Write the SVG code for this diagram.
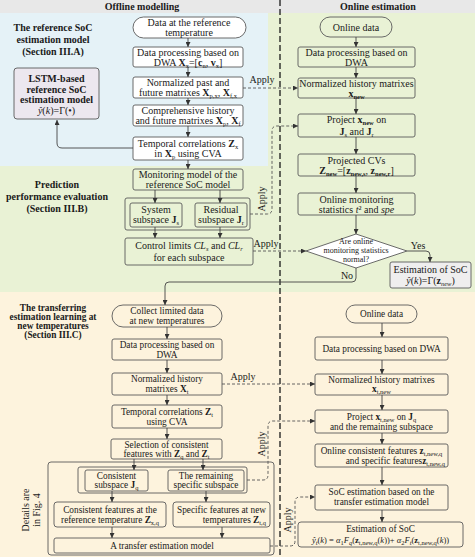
<svg xmlns="http://www.w3.org/2000/svg" width="475" height="557" viewBox="0 0 475 557">
<defs>
<marker id="ah" viewBox="0 0 6 6" refX="6" refY="3" markerWidth="5" markerHeight="5" orient="auto" markerUnits="userSpaceOnUse"><path d="M0,0 L6,3 L0,6 Z" fill="#333"/></marker>
<style>
.bx{fill:#fff;stroke:#5a5a5a;stroke-width:0.9}
.bg{fill:none;stroke:#5a5a5a;stroke-width:0.9}
.t{font-family:"Liberation Serif","Times New Roman",serif;font-size:10px;fill:#1a1a1a;text-anchor:middle}
.t9{font-size:9.3px}
.h{font-weight:bold}
.sec{font-family:"Liberation Serif",serif;font-size:10px;font-weight:bold;fill:#1a1a1a;text-anchor:middle}
.m{font-weight:bold}
.i{font-style:italic}
.s{font-size:6.5px;baseline-shift:-2px}
.cn{fill:none;stroke:#444;stroke-width:0.9}
.dn{fill:none;stroke:#555;stroke-width:0.9;stroke-dasharray:3 2}
</style>
</defs>

<!-- backgrounds -->
<rect x="0" y="0" width="475" height="13" fill="#e8e8e8"/>
<rect x="0" y="13" width="268" height="153" fill="#e5f2f7"/>
<path d="M268,13 H475 V292 H0 V166 H268 Z" fill="#e9f2d5"/>
<rect x="0" y="292" width="475" height="265" fill="#fdf3dd"/>
<text class="sec" x="142" y="10">Offline modelling</text>
<text class="sec" x="378" y="10">Online estimation</text>
<line x1="280" y1="0" x2="280" y2="557" stroke="#1a1a1a" stroke-width="1.3" stroke-dasharray="6 3"/>

<!-- section labels -->
<text class="sec" x="53" y="31">The reference SoC<tspan x="53" dy="12">estimation model</tspan><tspan x="53" dy="12">(Section III.A)</tspan></text>
<text class="sec" x="57" y="188">Prediction<tspan x="57" dy="12">performance evaluation</tspan><tspan x="57" dy="12">(Section III.B)</tspan></text>
<text class="sec" x="53" y="311" style="font-size:9.3px">The transferring<tspan x="53" dy="9">estimation learning at</tspan><tspan x="53" dy="9">new temperatures</tspan><tspan x="53" dy="9">(Section III.C)</tspan></text>

<!-- offline nodes -->
<g id="n_refdata"><rect class="bx" x="133" y="17" width="113" height="21" rx="10.5"/><text class="t" x="189" y="26">Data at the reference<tspan x="189" dy="10">temperature</tspan></text></g>
<g id="n_dwa"><rect class="bx" x="133" y="47" width="110" height="20" rx="2"/><text class="t" x="188" y="55.5">Data processing based on<tspan x="188" dy="10">DWA </tspan><tspan class="m">X</tspan><tspan class="s">x</tspan>=[<tspan class="m">c</tspan><tspan class="s">n</tspan>, <tspan class="m">v</tspan><tspan class="s">x</tspan>]</text></g>
<g id="n_norm"><rect class="bx" x="133" y="77" width="110" height="21" rx="2"/><text class="t" x="188" y="86">Normalized past and<tspan x="188" dy="10">future matrixes </tspan><tspan class="m">X</tspan><tspan class="s">p,x</tspan>, <tspan class="m">X</tspan><tspan class="s">f,x</tspan></text></g>
<g id="n_comp"><rect class="bx" x="133" y="105" width="110" height="21" rx="2"/><text class="t" x="188" y="114">Comprehensive history<tspan x="188" dy="10">and future matrixes </tspan><tspan class="m">X</tspan><tspan class="s">p</tspan>, <tspan class="m">X</tspan><tspan class="s">f</tspan></text></g>
<g id="n_tc"><rect class="bx" x="133" y="137" width="110" height="23" rx="2"/><text class="t" x="188" y="147">Temporal correlations <tspan class="m">Z</tspan><tspan class="s">x</tspan><tspan x="188" dy="10">in </tspan><tspan class="m">X</tspan><tspan class="s">p</tspan> using CVA</text></g>
<g id="n_lstm"><rect x="14" y="68" width="85" height="51" rx="3" fill="#ece7ef" stroke="#5a5a5a" stroke-width="0.9"/><text class="t h" x="56.5" y="82">LSTM-based<tspan x="56.5" dy="10.5">reference SoC</tspan><tspan x="56.5" dy="10.5">estimation model</tspan></text><text class="t" x="56.5" y="114"><tspan class="i">ŷ</tspan>(<tspan class="i">k</tspan>)=Γ(•)</text></g>
<g id="n_mon"><rect class="bg" x="133" y="169" width="110" height="21" rx="2"/><text class="t" x="188" y="178">Monitoring model of the<tspan x="188" dy="10">reference SoC model</tspan></text></g>
<g id="n_subsp"><rect class="bg" x="125" y="198" width="125" height="32" rx="2"/>
<rect class="bg" x="130" y="203" width="52" height="24" rx="2"/><text class="t" x="156" y="213">System<tspan x="156" dy="10">subspace </tspan><tspan class="m">J</tspan><tspan class="s">s</tspan></text>
<rect class="bg" x="195" y="203" width="52" height="24" rx="2"/><text class="t" x="221" y="213">Residual<tspan x="221" dy="10">subspace </tspan><tspan class="m">J</tspan><tspan class="s">r</tspan></text></g>
<g id="n_cl"><rect class="bg" x="125" y="238" width="128" height="27" rx="2"/><text class="t" x="189" y="249">Control limits <tspan class="i">CL</tspan><tspan class="s i">s</tspan> and <tspan class="i">CL</tspan><tspan class="s i">r</tspan></text><text class="t" x="189" y="260.5">for each subspace</text></g>

<!-- online top nodes -->
<g id="n_ondata"><rect class="bg" x="320" y="17" width="72" height="20" rx="10"/><text class="t" x="356" y="30.5">Online data</text></g>
<g id="n_ondwa"><rect class="bg" x="298" y="47" width="117" height="20" rx="2"/><text class="t" x="356.5" y="55.5">Data processing based on<tspan x="356.5" dy="10">DWA</tspan></text></g>
<g id="n_onnorm"><rect class="bg" x="298" y="78" width="117" height="20" rx="2"/><text class="t" x="356.5" y="86.5">Normalized history matrixes<tspan x="356.5" dy="10" class="m">x</tspan><tspan class="s m">new</tspan></text></g>
<g id="n_proj"><rect class="bg" x="298" y="114" width="117" height="23" rx="2"/><text class="t" x="356.5" y="123">Project <tspan class="m">x</tspan><tspan class="s m">new</tspan> on</text><text class="t" x="356.5" y="134.5"><tspan class="m">J</tspan><tspan class="s">s</tspan> and <tspan class="m">J</tspan><tspan class="s">r</tspan></text></g>
<g id="n_pcv"><rect class="bg" x="298" y="154" width="117" height="22" rx="2"/><text class="t" x="356.5" y="163.5">Projected CVs<tspan x="356.5" dy="10" class="m">Z</tspan><tspan class="s m">new</tspan>=[<tspan class="m">z</tspan><tspan class="s m">new,s</tspan>, <tspan class="m">z</tspan><tspan class="s m">new,r</tspan>]</text></g>
<g id="n_stat"><rect class="bg" x="298" y="193" width="117" height="22" rx="2"/><text class="t" x="356.5" y="202.5">Online monitoring<tspan x="356.5" dy="10">statistics </tspan><tspan class="i">t</tspan>² and <tspan class="i">spe</tspan></text></g>
<g id="n_dec"><path d="M356,234 L407,251 L356,268 L306,251 Z" fill="#fff" stroke="#5a5a5a" stroke-width="0.9"/><text class="t" x="356" y="244" style="font-size:8px">Are online<tspan x="356" dy="9">monitoring statistics</tspan><tspan x="356" dy="9">normal?</tspan></text></g>
<g id="n_est"><rect x="390" y="262" width="81" height="26" rx="2" fill="#efeeee" stroke="#5a5a5a" stroke-width="0.9"/><text class="t" x="430.5" y="272.5">Estimation of SoC<tspan x="430.5" dy="11" class="i">ŷ</tspan>(<tspan class="i">k</tspan>)=Γ(<tspan class="m">z</tspan><tspan class="s i">new</tspan>)</text></g>

<!-- transfer (bottom-left) nodes -->
<g id="n_collect"><rect class="bg" x="112" y="305" width="110" height="22" rx="11"/><text class="t t9" x="167" y="314">Collect limited data<tspan x="167" dy="10">at new temperatures</tspan></text></g>
<g id="n_tdwa"><rect class="bg" x="112" y="339" width="110" height="21" rx="2"/><text class="t t9" x="167" y="347.5">Data processing based on<tspan x="167" dy="10">DWA</tspan></text></g>
<g id="n_tnorm"><rect class="bg" x="112" y="373" width="110" height="22" rx="2"/><text class="t t9" x="167" y="382">Normalized history<tspan x="167" dy="10">matrixes </tspan><tspan class="m">X</tspan><tspan class="s">t</tspan></text></g>
<g id="n_ttc"><rect class="bg" x="112" y="405" width="110" height="23" rx="2"/><text class="t t9" x="167" y="414.5">Temporal correlations <tspan class="m">Z</tspan><tspan class="s">t</tspan><tspan x="167" dy="10">using CVA</tspan></text></g>
<g id="n_sel"><rect class="bg" x="111" y="439" width="111" height="20" rx="2"/><text class="t t9" x="166.5" y="447.5">Selection of consistent<tspan x="166.5" dy="9.5">features with </tspan><tspan class="m">Z</tspan><tspan class="s">q</tspan> and <tspan class="m">Z</tspan><tspan class="s">t</tspan></text></g>
<g id="n_details"><rect class="bg" x="48" y="462" width="226" height="93" rx="3"/><text class="t" transform="translate(29,510) rotate(-90)" x="0" y="0">Details are<tspan x="0" dy="11">in Fig. 4</tspan></text></g>
<g id="n_tsub"><rect class="bg" x="78" y="467" width="169" height="26" rx="2"/>
<rect class="bg" x="85" y="470" width="63" height="21" rx="2"/><text class="t t9" x="116.5" y="478.5">Consistent<tspan x="116.5" dy="9.5">subspace </tspan><tspan class="m">J</tspan><tspan class="s">q</tspan></text>
<rect class="bg" x="168" y="470" width="76" height="21" rx="2"/><text class="t t9" x="206" y="478.5">The remaining<tspan x="206" dy="9.5">specific subspace</tspan></text></g>
<g id="n_cf"><rect class="bg" x="54" y="502" width="112" height="25" rx="3"/><text class="t t9" x="110" y="512.5">Consistent features at the<tspan x="110" dy="10">reference temperature </tspan><tspan class="m">Z</tspan><tspan class="s">x,q</tspan></text></g>
<g id="n_sf"><rect class="bg" x="173" y="502" width="97" height="25" rx="3"/><text class="t t9" x="221.5" y="512.5">Specific features at new</text><text class="t t9" x="266" y="522.5" style="text-anchor:end">temperatures <tspan class="m">Z</tspan><tspan class="s">t,q</tspan></text></g>
<g id="n_tm"><rect class="bg" x="54" y="538" width="216" height="15" rx="2"/><text class="t t9" x="162" y="549">A transfer estimation model</text></g>

<!-- online bottom nodes -->
<g id="n_ondata2"><rect class="bg" x="346" y="305" width="71" height="18" rx="9"/><text class="t t9" x="381.5" y="317">Online data</text></g>
<g id="n_ondwa2"><rect class="bg" x="315" y="337" width="133" height="23" rx="2"/><text class="t t9" x="381.5" y="351.5">Data processing based on DWA</text></g>
<g id="n_onnorm2"><rect class="bg" x="315" y="374" width="133" height="21" rx="2"/><text class="t t9" x="381.5" y="382.5">Normalized history matrixes<tspan x="381.5" dy="9.5" class="m">x</tspan><tspan class="s">t,new</tspan></text></g>
<g id="n_proj2"><rect class="bg" x="315" y="410" width="133" height="23" rx="2"/><text class="t t9" x="381.5" y="419.5">Project <tspan class="m">x</tspan><tspan class="s">t,new</tspan> on  <tspan class="m">J</tspan><tspan class="s">q</tspan><tspan x="381.5" dy="10">and the remaining subspace</tspan></text></g>
<g id="n_feat2"><rect class="bg" x="315" y="444" width="133" height="23" rx="2"/><text class="t t9" x="381.5" y="453.5">Online consistent features <tspan class="m">z</tspan><tspan class="s">t,new,q</tspan></text><text class="t t9" x="445" y="463.5" style="text-anchor:end">and specific features<tspan class="m">z</tspan><tspan class="s">t,new,q</tspan></text></g>
<g id="n_socest"><rect class="bg" x="315" y="485" width="133" height="25" rx="2"/><text class="t t9" x="381.5" y="495">SoC estimation based on the<tspan x="381.5" dy="10">transfer estimation model</tspan></text></g>
<g id="n_est2"><rect class="bg" x="298" y="522" width="165" height="25" rx="3"/><text class="t t9" x="380.5" y="532">Estimation of SoC</text><text class="t" x="380.5" y="543" style="font-size:8.5px"><tspan class="i">ŷ</tspan><tspan class="s i">t</tspan>(<tspan class="i">k</tspan>) = <tspan class="i">α</tspan><tspan class="s">1</tspan><tspan class="i">F</tspan><tspan class="s i">q</tspan>(<tspan class="m">z</tspan><tspan class="s">t,new,q</tspan>(<tspan class="i">k</tspan>))+ <tspan class="i">α</tspan><tspan class="s">2</tspan><tspan class="i">F</tspan><tspan class="s i">t</tspan>(<tspan class="m">z</tspan><tspan class="s">t,new,q</tspan>(<tspan class="i">k</tspan>))</text></g>

<!-- connectors -->
<g id="connectors">
<path class="cn" marker-end="url(#ah)" d="M188,38 V47"/>
<path class="cn" marker-end="url(#ah)" d="M188,67 V77"/>
<path class="cn" marker-end="url(#ah)" d="M188,98 V105"/>
<path class="cn" marker-end="url(#ah)" d="M188,126 V137"/>
<path class="cn" marker-end="url(#ah)" d="M188,160 V169"/>
<path class="cn" marker-end="url(#ah)" d="M133,148 H62 Q57,148 57,143 V120"/>
<path class="cn" marker-end="url(#ah)" d="M155,190 V203"/>
<path class="cn" marker-end="url(#ah)" d="M220,190 V203"/>
<path class="cn" marker-end="url(#ah)" d="M155,227 V238"/>
<path class="cn" marker-end="url(#ah)" d="M220,227 V238"/>
<path class="cn" marker-end="url(#ah)" d="M356,37 V47"/>
<path class="cn" marker-end="url(#ah)" d="M356,67 V78"/>
<path class="cn" marker-end="url(#ah)" d="M356,98 V114"/>
<path class="cn" marker-end="url(#ah)" d="M356,137 V154"/>
<path class="cn" marker-end="url(#ah)" d="M356,176 V193"/>
<path class="cn" marker-end="url(#ah)" d="M356,215 V234"/>
<path class="cn" marker-end="url(#ah)" d="M407,251 H426 Q430,251 430,255 V262"/>
<path class="cn" marker-end="url(#ah)" d="M356,268 V278 Q356,282 352,282 H169 Q165,282 165,286 V305"/>
<path class="dn" marker-end="url(#ah)" d="M243,88 H298"/>
<path class="dn" marker-end="url(#ah)" d="M250,214 H267 Q272,214 272,209 V131 Q272,126 277,126 H298"/>
<path class="dn" marker-end="url(#ah)" d="M253,251 H306"/>
<path class="cn" marker-end="url(#ah)" d="M167,327 V339"/>
<path class="cn" marker-end="url(#ah)" d="M167,360 V373"/>
<path class="cn" marker-end="url(#ah)" d="M167,395 V405"/>
<path class="cn" marker-end="url(#ah)" d="M167,428 V439"/>
<path class="cn" marker-end="url(#ah)" d="M134,459 V470"/>
<path class="cn" marker-end="url(#ah)" d="M203,459 V470"/>
<path class="cn" marker-end="url(#ah)" d="M112,491 V502"/>
<path class="cn" marker-end="url(#ah)" d="M206,491 V502"/>
<path class="cn" marker-end="url(#ah)" d="M112,527 V538"/>
<path class="cn" marker-end="url(#ah)" d="M222,527 V538"/>
<path class="cn" marker-end="url(#ah)" d="M382,323 V337"/>
<path class="cn" marker-end="url(#ah)" d="M382,360 V374"/>
<path class="cn" marker-end="url(#ah)" d="M382,395 V410"/>
<path class="cn" marker-end="url(#ah)" d="M382,433 V444"/>
<path class="cn" marker-end="url(#ah)" d="M382,467 V485"/>
<path class="cn" marker-end="url(#ah)" d="M382,510 V522"/>
<path class="dn" marker-end="url(#ah)" d="M222,384 H315"/>
<path class="dn" marker-end="url(#ah)" d="M247,480 H263 Q268,480 268,475 V426 Q268,421 273,421 H315"/>
<path class="dn" marker-end="url(#ah)" d="M270,546 H290 Q295,546 295,541 V502 Q295,497 300,497 H315"/>
<text class="t" x="262" y="83">Apply</text>
<text class="t" transform="translate(265,199) rotate(-90)">Apply</text>
<text class="t" x="266" y="247">Apply</text>
<text class="t" x="418" y="249">Yes</text>
<text class="t" x="347" y="279">No</text>
<text class="t" x="243" y="380">Apply</text>
<text class="t" transform="translate(265,444) rotate(-90)">Apply</text>
<text class="t" transform="translate(291,520) rotate(-90)">Apply</text>
</g>
</svg>
